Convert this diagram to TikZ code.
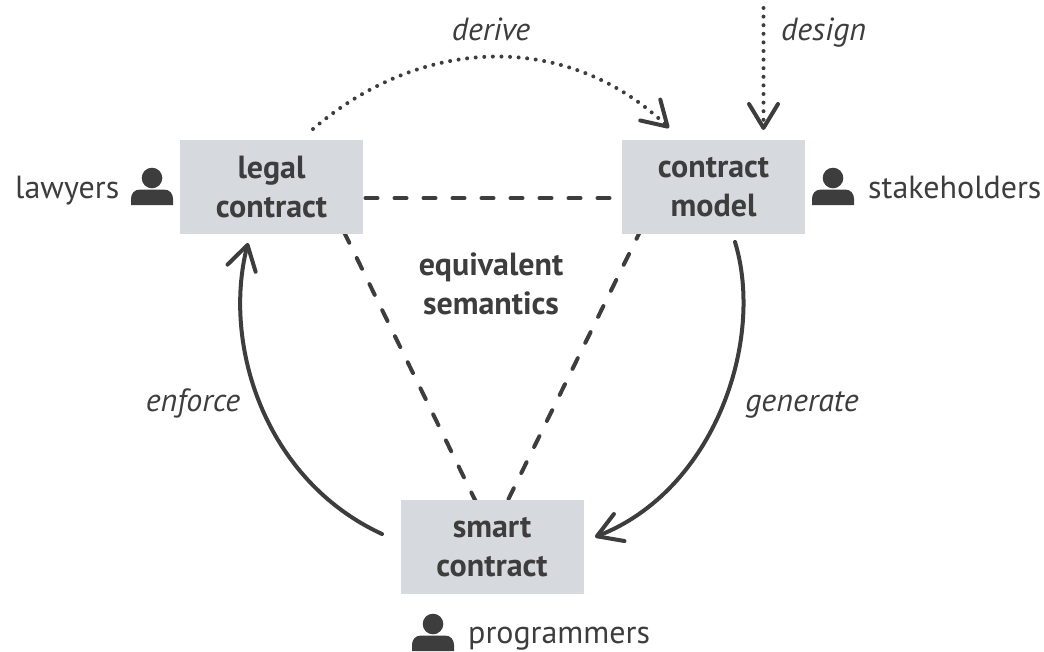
\documentclass[tikz,border=0pt]{standalone}
\usepackage{fontspec}
\setmainfont{PT Sans}
\usetikzlibrary{arrows.meta,backgrounds}
\definecolor{ink}{HTML}{3D3D3D}
\definecolor{boxfill}{HTML}{D6D9DE}
\tikzset{
  x=1pt,y=-1pt,
  box/.style={fill=boxfill,minimum width=183pt,minimum height=94pt,inner sep=0pt,align=center,text=ink,font=\fontsize{32}{39}\selectfont\bfseries},
  lbl/.style={text=ink,inner sep=0pt,font=\fontsize{32}{39}\selectfont},
  verb/.style={text=ink,inner sep=0pt,font=\fontsize{32}{39}\selectfont\itshape},
  tipped/.style={-{Straight Barb[length=24pt,width=29pt,line width=4pt,round]}},
  conn/.style={draw=ink,line width=4pt,line cap=round},
  dashline/.style={conn,dash pattern=on 12pt off 17pt},
  dotline/.style={conn,dash pattern=on 0pt off 8.6pt},
  person/.pic={
    \fill[ink] (0,-27) circle (10.3);
    \fill[ink] (-21,0) -- (-21,-6) .. controls (-21,-11) and (-18,-15.5) .. (-12,-15.5) -- (12,-15.5) .. controls (18,-15.5) and (21,-11) .. (21,-6) -- (21,0) -- cycle;
  }
}
\begin{document}
\begin{tikzpicture}
\useasboundingbox (0,0) rectangle (1044,651);
\node[box] (legal) at (271.5,187) {legal\\contract};
\node[box] (model) at (713.5,187) {contract\\model};
\node[box] (smart) at (492,547) {smart\\contract};
\node[lbl,anchor=base west] (lawyers) at (15,198) {lawyers};
\node[lbl,anchor=base west] (stake) at (868,198) {stakeholders};
\node[lbl,anchor=base west] (prog) at (468,643) {programmers};
\node[verb,anchor=base] (derive) at (491,40) {derive};
\node[verb,anchor=base west] (design) at (781,40) {design};
\node[verb,anchor=base] (enforce) at (193,411) {enforce};
\node[verb,anchor=base] (generate) at (802,411) {generate};
\node[lbl,align=center,font=\fontsize{32}{39}\selectfont\bfseries] (eq) at (491,284) {equivalent\\semantics};
\pic at (152,205) {person};
\pic at (833,205) {person};
\pic at (433,651) {person};
\coordinate (d1) at (313,129);
\coordinate (d2) at (669,128);
\coordinate (top) at (763.5,8);
\coordinate (m1) at (763.5,130);
\coordinate (g1) at (735,242);
\coordinate (g2) at (595,537);
\coordinate (e1) at (382,534);
\coordinate (e2) at (248,243);
\coordinate (a1) at (365.5,198.3);
\coordinate (a2) at (622,198.3);
\coordinate (b1) at (344,232);
\coordinate (b2) at (476,502);
\coordinate (c1) at (641.8,228);
\coordinate (c2) at (508,500);
\begin{pgfonlayer}{background}
\draw[dashline] (a1) -- (a2);
\draw[dashline] (b1) -- (b2);
\draw[dashline] (c1) -- (c2);
\end{pgfonlayer}
\draw[dotline,tipped] (d1) .. controls (425,33) and (570,33) .. (d2);
\draw[dotline,tipped] (top) -- (m1);
\draw[conn,tipped] (g1) .. controls (765,340) and (715,490) .. (g2);
\draw[conn,tipped] (e1) .. controls (265,480) and (222,345) .. (e2);
\end{tikzpicture}
\end{document}
